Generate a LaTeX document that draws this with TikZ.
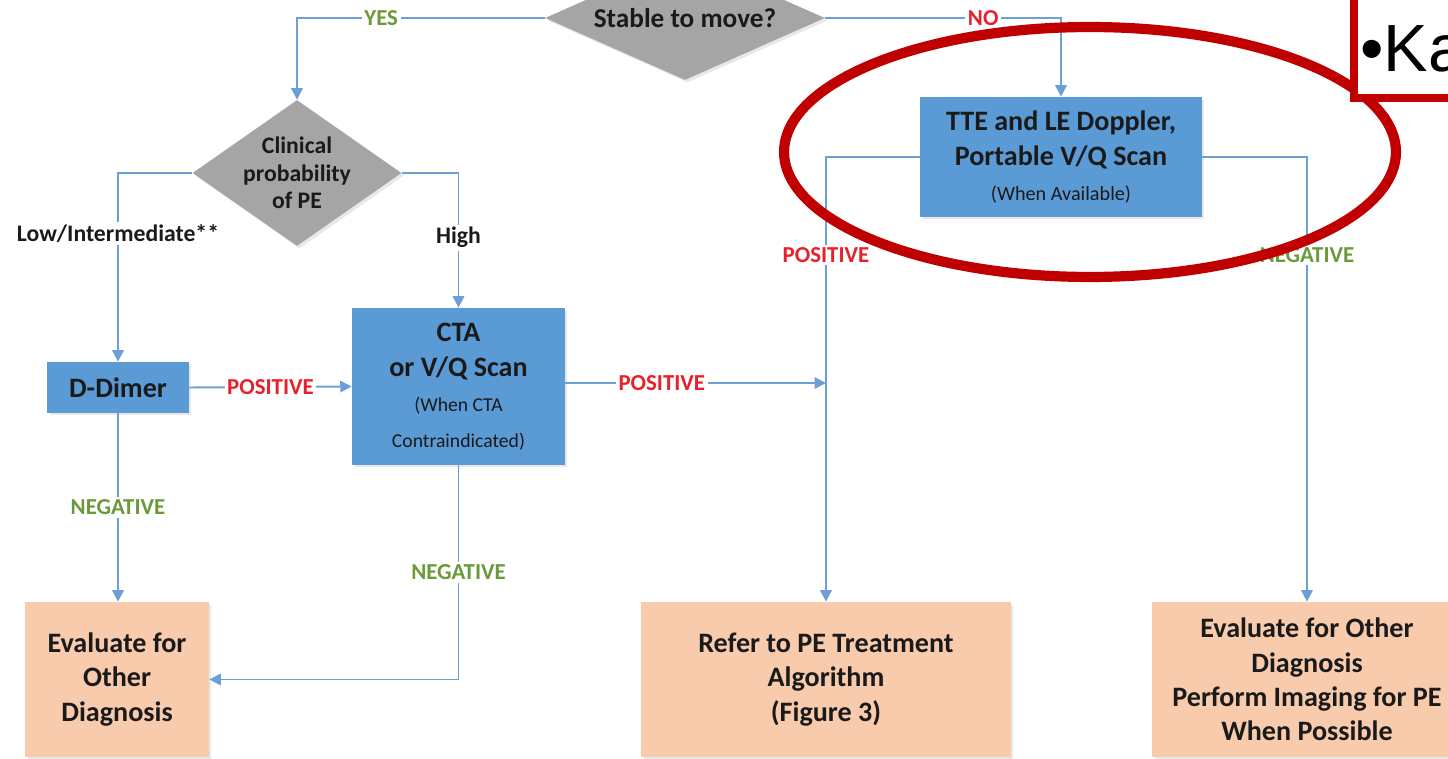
\documentclass[tikz,border=0pt]{standalone}
\usepackage{fontspec}
\setmainfont{Carlito}
\newfontfamily\kafont{Liberation Sans}
\usetikzlibrary{shapes.geometric,arrows.meta,shadows}
\definecolor{boxblue}{HTML}{5B9BD5}
\definecolor{lineblue}{HTML}{6C9FD6}
\definecolor{dgray}{HTML}{A5A5A5}
\definecolor{orng}{HTML}{F8CBAD}
\definecolor{posred}{HTML}{E8202A}
\definecolor{neggreen}{HTML}{6A9A3A}
\definecolor{bigred}{HTML}{C00000}
\definecolor{txt}{HTML}{1A1A1A}
\begin{document}
\begin{tikzpicture}[x=0.02cm,y=-0.02cm,
  shad/.style={drop shadow={opacity=0.18,shadow xshift=0.05cm,shadow yshift=-0.05cm}},
  bluebox/.style={draw=none, fill=boxblue, inner sep=0pt, align=center, text=txt, shad,
    font=\bfseries\fontsize{16}{20}\selectfont},
  orbox/.style={draw=none, fill=orng, inner sep=0pt, align=center, text=txt, shad,
    font=\bfseries\fontsize{16}{19.6}\selectfont},
  decision/.style={diamond, draw=none, fill=dgray, inner sep=0pt, shad},
  conn/.style={draw=lineblue, line width=1.1pt, -{Triangle[length=6.5pt,width=6.5pt]}},
  lbl/.style={fill=white, inner sep=1.5pt, font=\bfseries\fontsize{13}{15}\selectfont},
  poslbl/.style={lbl, text=posred},
  neglbl/.style={lbl, text=neggreen},
  blklbl/.style={lbl, text=txt, font=\bfseries\fontsize{13.5}{15}\selectfont}
]
\useasboundingbox (0,0) rectangle (1448,759);
\clip (0,0) rectangle (1448,759);
\fill[white] (0,0) rectangle (1448,759);

% nodes
\node[decision, minimum width=5.6cm, minimum height=2.48cm] (s) at (685,18) {};
\node[font=\bfseries\fontsize{15.5}{18}\selectfont, text=txt] (st) at (s.center) {Stable to move?};

\node[decision, minimum width=4.18cm, minimum height=2.92cm] (c) at (297,173) {};
\node[align=center, text=txt, font=\bfseries\fontsize{13.5}{15.5}\selectfont] (ct) at (c.center) {Clinical\\probability\\of PE};

\node[bluebox, minimum width=2.84cm, minimum height=1.02cm] (dd) at (118,387.5) {D-Dimer};
\node[bluebox, minimum width=4.26cm, minimum height=3.14cm] (cta) at (458.5,386.5)
  {CTA\\or V/Q Scan\\{\mdseries\fontsize{11.2}{15}\selectfont (When CTA}\\{\mdseries\fontsize{11.2}{15}\selectfont Contraindicated)}};
\node[bluebox, minimum width=5.64cm, minimum height=2.4cm] (tte) at (1061,157)
  {TTE and LE Doppler,\\Portable V/Q Scan\\{\mdseries\fontsize{11.5}{15}\selectfont (When Available)}};

\node[orbox, minimum width=3.68cm, minimum height=3.1cm] (evl) at (117,679.5) {Evaluate for\\Other\\Diagnosis};
\node[orbox, minimum width=7.4cm, minimum height=3.1cm] (ref) at (826,679.5) {Refer to PE Treatment\\Algorithm\\(Figure 3)};
\node[orbox, minimum width=6.2cm, minimum height=3.1cm] (evr) at (1307,679.5) {Evaluate for Other\\Diagnosis\\Perform Imaging for PE\\When Possible};

\coordinate (pj) at (826,383);

% connectors
\draw[conn] (s.west) -| node[pos=0.33, neglbl]{YES} (c.north);
\draw[conn] (s.east) -| node[pos=0.335, poslbl]{NO} (tte.north);
\draw[conn] (c.west) -| node[pos=0.66, blklbl]{Low/Intermediate**} (dd.north);
\draw[conn] (c.east) -| node[pos=0.74, blklbl]{High} (cta.north);
\draw[conn] (dd.east) -- node[pos=0.5, poslbl]{POSITIVE} (cta.west);
\draw[conn] (cta.east |- pj) -- node[pos=0.37, poslbl]{POSITIVE} (pj);
\draw[conn] (tte.west) -| node[pos=0.61, poslbl]{POSITIVE} (ref.north);
\draw[conn] (tte.east) -| node[pos=0.61, neglbl]{NEGATIVE} (evr.north);
\draw[conn] (dd.south) -- node[pos=0.5, neglbl]{NEGATIVE} (dd.south |- evl.north);
\draw[conn] (cta.south) |- node[pos=0.25, neglbl]{NEGATIVE} (evl.east);

% annotation
\draw[bigred, line width=5.8pt] (1090,152) ellipse [x radius=6.12cm, y radius=2.5cm];
\draw[bigred, line width=5pt, fill=white] (1354,-30) rectangle (1500,98);
\node[anchor=base west, inner sep=0pt, font=\kafont\fontsize{38}{40}\selectfont] (ka) at (1360,72) {•Ka};
\end{tikzpicture}
\end{document}
